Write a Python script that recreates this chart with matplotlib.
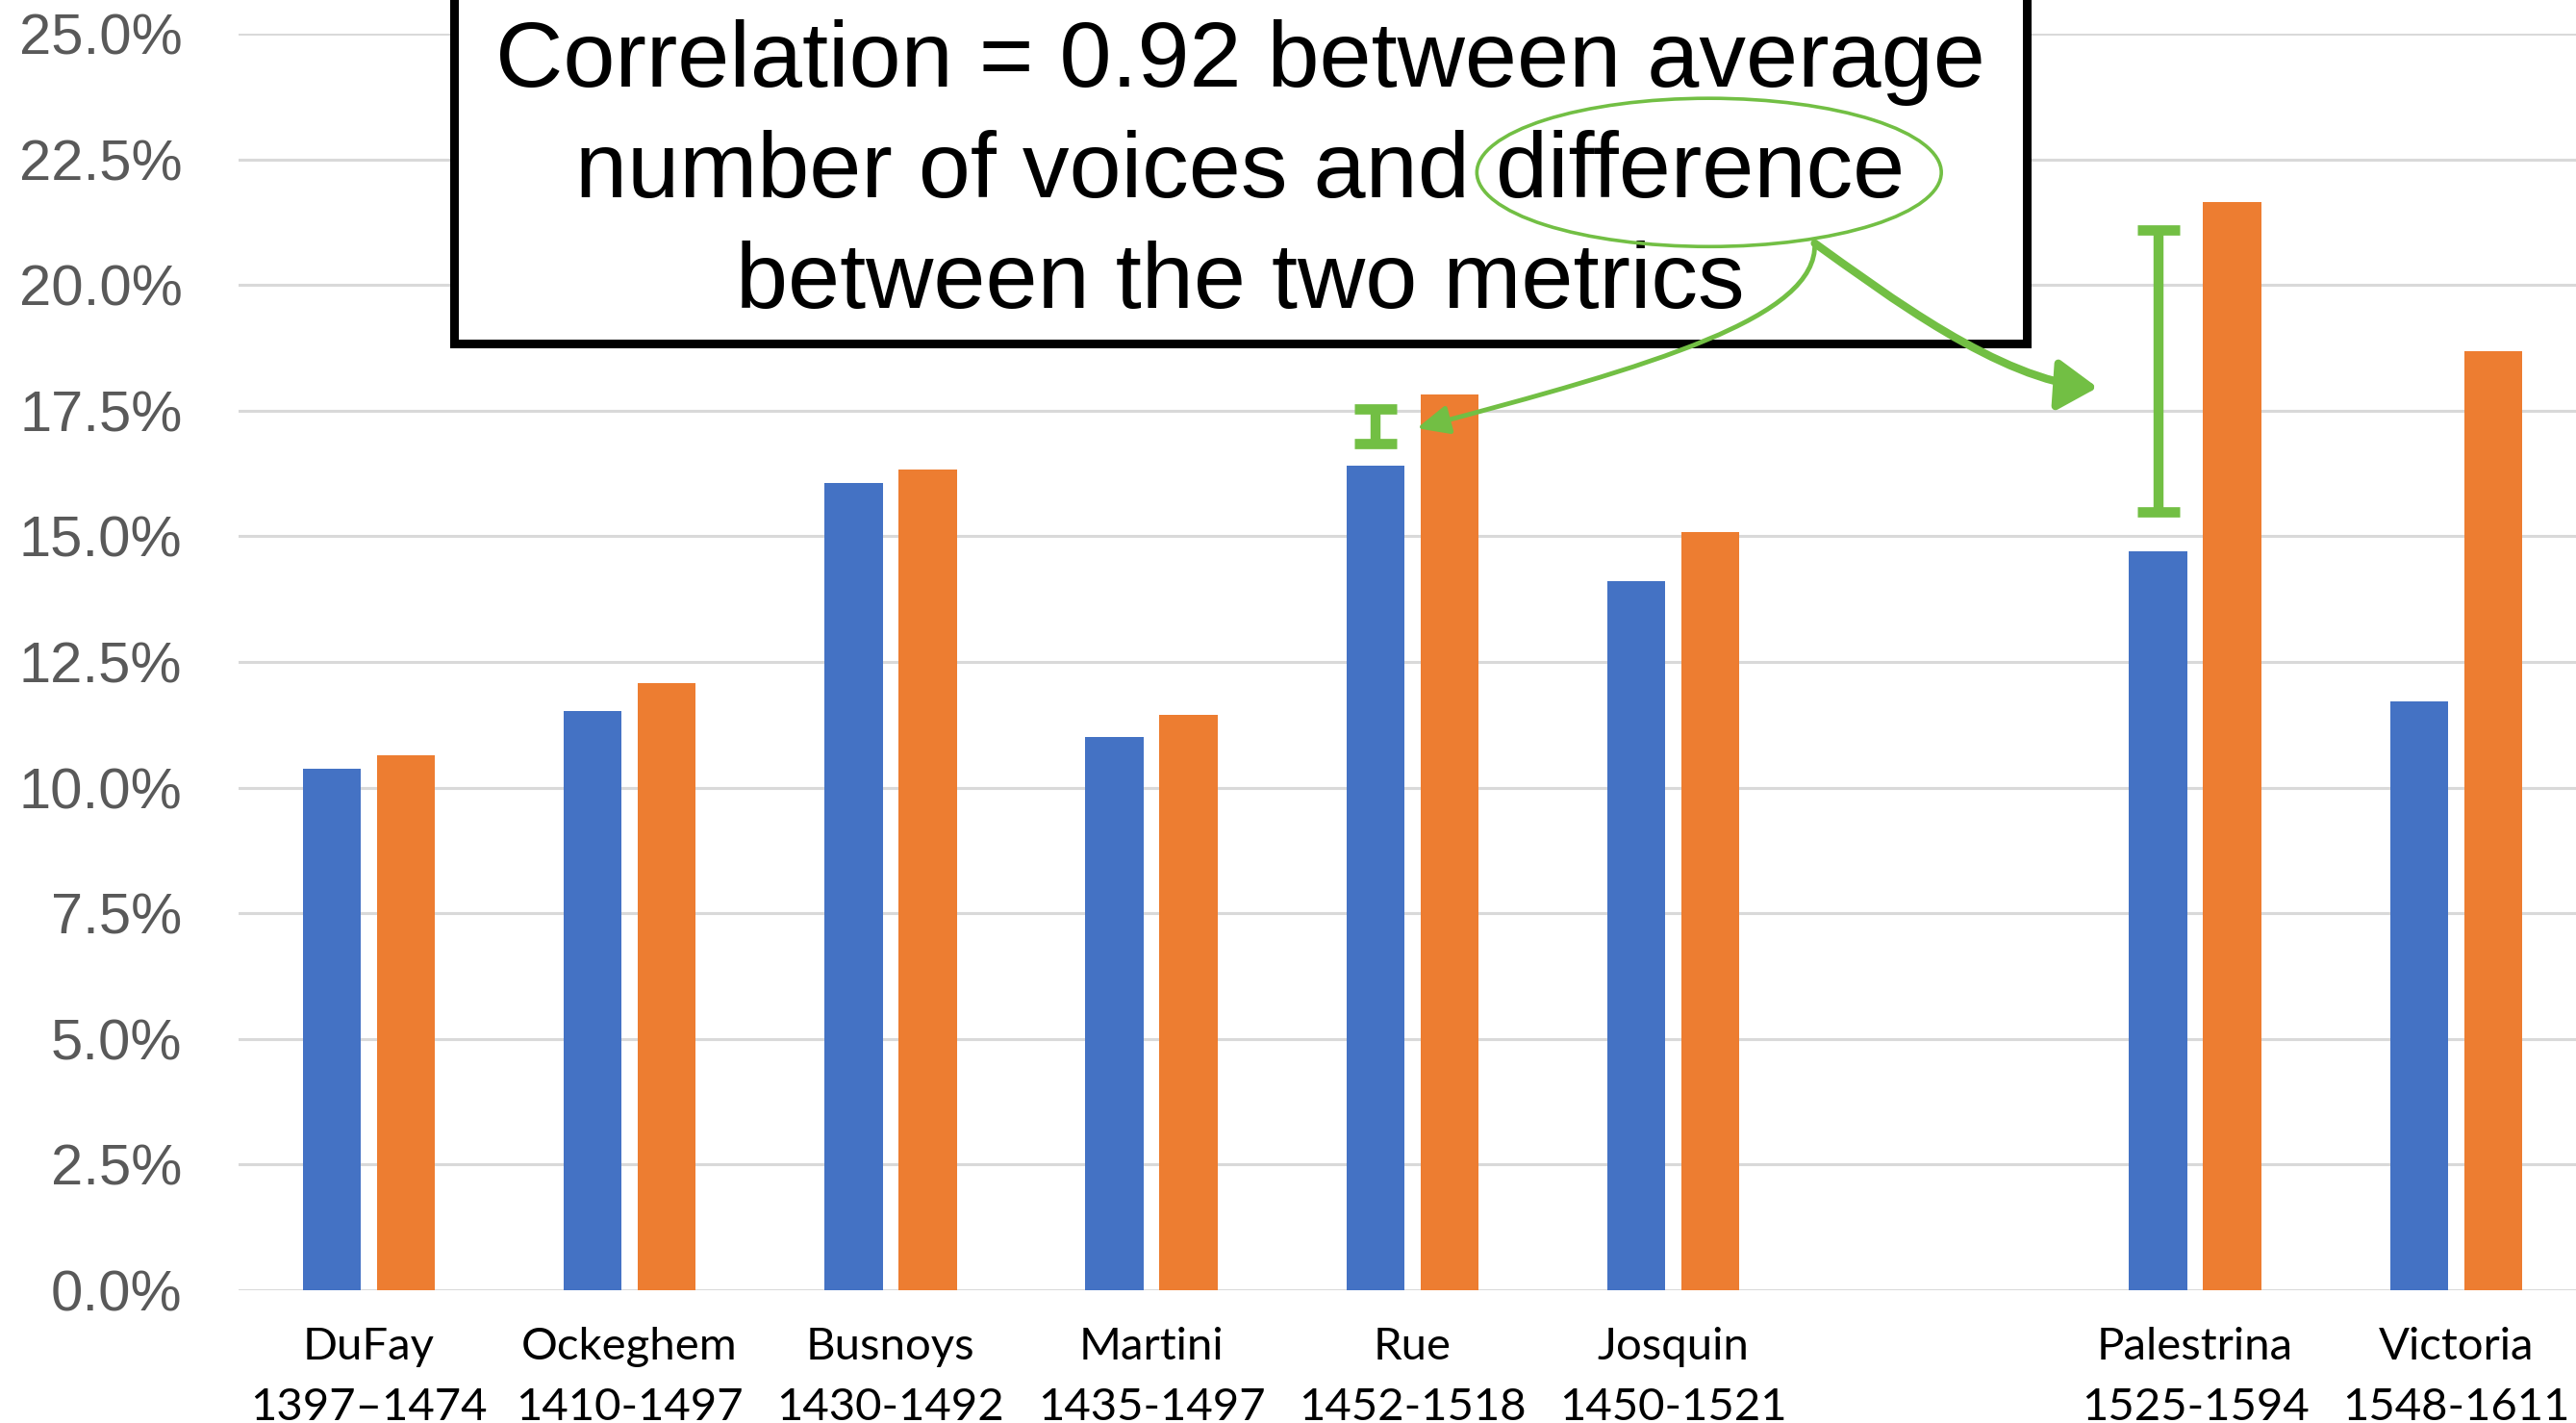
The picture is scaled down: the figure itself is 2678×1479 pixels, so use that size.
import numpy as np
import matplotlib
matplotlib.use("Agg")
import matplotlib.pyplot as plt
from matplotlib.ticker import PercentFormatter, MultipleLocator
from matplotlib.patches import Rectangle, Ellipse, FancyArrowPatch
from matplotlib.path import Path

# composers (empty slot = gap in the chart)
composers = ['DuFay', 'Ockeghem', 'Busnoys', 'Martini', 'Rue', 'Josquin', '',
             'Palestrina', 'Victoria']
years = ['1397–1474', '1410-1497', '1430-1492', '1435-1497', '1452-1518',
         '1450-1521', '', '1525-1594', '1548-1611']
metric_a = [10.38, 11.52, 16.07, 11.01, 16.40, 14.11, np.nan, 14.70, 11.72]
metric_b = [10.65, 12.08, 16.33, 11.45, 17.83, 15.09, np.nan, 21.66, 18.68]

# green "difference" markers (low, high) on Rue and Palestrina
diff_idx = [4, 7]
diff_low = [16.84, 15.49]
diff_high = [17.54, 21.09]

BLUE = '#4472C4'
ORANGE = '#ED7D31'
GREEN = '#72BF44'

fig = plt.figure(figsize=(26.78, 14.79), dpi=100)
ax = fig.add_axes([0.0925, 0.0933, 0.9116, 0.8830])

x = np.arange(len(composers))
w = 0.223
off = 0.142
ax.bar(x - off, metric_a, width=w, color=BLUE, zorder=2)
ax.bar(x + off, metric_b, width=w, color=ORANGE, zorder=2)

ax.set_xlim(-0.5, 8.5)
ax.set_ylim(0, 25)
ax.yaxis.set_major_locator(MultipleLocator(2.5))
ax.yaxis.set_major_formatter(PercentFormatter(xmax=100, decimals=1))
ax.grid(axis='y', color='#d9d9d9', linewidth=2.2, zorder=0)
ax.set_axisbelow(True)
for s in ax.spines.values():
    s.set_visible(False)

labels = [f'{c}\n{y}' if c else '' for c, y in zip(composers, years)]
ax.set_xticks(x)
ax.set_xticklabels(labels, fontfamily='Lato', fontsize=34, color='black',
                   linespacing=1.62)
ax.tick_params(axis='x', length=0, pad=27)
ax.tick_params(axis='y', length=0, pad=42, labelsize=43, labelcolor='#595959')
for t in ax.get_yticklabels():
    t.set_fontfamily('Liberation Sans')

# green I-beams
dx = [i - off for i in diff_idx]
mid = [(a + b) / 2 for a, b in zip(diff_low, diff_high)]
half = [(b - a) / 2 for a, b in zip(diff_low, diff_high)]
ax.errorbar(dx, mid, yerr=half, fmt='none', ecolor=GREEN, elinewidth=7.5,
            capsize=16, capthick=7.7, zorder=4)

# text box
box = Rectangle((0.327, 18.84), 6.353 - 0.327, 12, facecolor='white',
                edgecolor='black', linewidth=6.5, clip_on=False, zorder=3)
ax.add_patch(box)
lines = ['Correlation = 0.92 between average',
         'number of voices and difference',
         'between the two metrics']
for txt, yb in zip(lines, [23.95, 21.75, 19.54]):
    ax.text(3.34, yb, txt, ha='center', va='baseline', fontsize=70,
            fontfamily='Liberation Sans', color='black', zorder=4,
            clip_on=False)

ax.add_patch(Ellipse((5.137, 22.24), 1.78, 2.95, fill=False, edgecolor=GREEN,
                     linewidth=2.6, clip_on=False, zorder=5))

# curved arrows from the ellipse
thin = Path([(5.542, 20.83), (5.553, 19.35), (4.927, 18.40), (4.017, 17.15)],
            [Path.MOVETO, Path.CURVE4, Path.CURVE4, Path.CURVE4])
ax.add_patch(FancyArrowPatch(path=thin, arrowstyle='-|>,head_length=20,head_width=9',
                             mutation_scale=1, color=GREEN, linewidth=3.5,
                             clip_on=False, zorder=5))
thick = Path([(5.542, 20.83), (5.812, 19.83), (6.254, 18.09), (6.626, 17.96)],
             [Path.MOVETO, Path.CURVE4, Path.CURVE4, Path.CURVE4])
ax.add_patch(FancyArrowPatch(path=thick, arrowstyle='-|>,head_length=25,head_width=16',
                             mutation_scale=1, color=GREEN, linewidth=6,
                             clip_on=False, zorder=5))

fig.savefig('out.png', dpi=100)
